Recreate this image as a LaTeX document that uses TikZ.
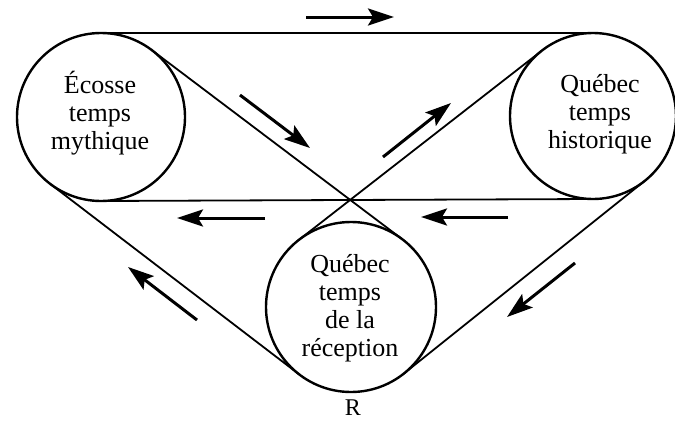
\documentclass[tikz,border=0pt]{standalone}
\usepackage{fontspec}
\setmainfont{Liberation Serif}
\usetikzlibrary{calc,arrows.meta}
\begin{document}
\begin{tikzpicture}[x=1pt,y=-1pt,
  circ/.style={circle,draw,line width=2.4pt,inner sep=0pt,outer sep=0pt},
  belt/.style={line width=1.8pt},
  flow/.style={line width=3pt,-{Stealth[length=26pt,width=17pt,inset=5pt]}},
  lbl/.style={align=center,font=\fontsize{26}{28}\selectfont,inner sep=0pt}]
\useasboundingbox (0,0) rectangle (675,421);
% circles
\node[circ,minimum size=168pt] (L) at (101,117) {};
\node[circ,minimum size=166pt] (H) at (593,116) {};
\node[circ,minimum size=170pt] (B) at (351,307) {};
% tangent points
\coordinate (L1) at ($(L.center)!84pt!90:(B.center)$);
\coordinate (B1) at ($(B.center)!85pt!-90:(L.center)$);
\coordinate (H1) at ($(H.center)!83pt!-90:(B.center)$);
\coordinate (B2) at ($(B.center)!85pt!90:(H.center)$);
\coordinate (L2) at ($(L.center)!84pt!-90:(B.center)$);
\coordinate (B3) at ($(B.center)!85pt!90:(L.center)$);
\coordinate (H2) at ($(H.center)!83pt!90:(B.center)$);
\coordinate (B4) at ($(B.center)!85pt!-90:(H.center)$);
% belt lines
\draw[belt] (L.north) -- (H.north);
\draw[belt] (L.south) -- (H.south);
\draw[belt] (L1) -- (B1);
\draw[belt] (H1) -- (B2);
\draw[belt] (L2) -- (B3);
\draw[belt] (H2) -- (B4);
% labels
\node[lbl] (tL) at (100,113) {Écosse\\temps\\mythique};
\node[lbl] (tH) at (600,114) {Québec\\temps\\historique};
\node[lbl] (tB) at (350,308) {Québec\\temps\\de la\\réception};
\node[font=\fontsize{24}{26}\selectfont,inner sep=0pt] (R) at (353,408) {R};
% flow arrows
\coordinate (a1s) at (306,17);  \coordinate (a1e) at (394,17);
\coordinate (a2s) at (240,95);  \coordinate (a2e) at (310,148);
\coordinate (a3s) at (383,157); \coordinate (a3e) at (451,103);
\coordinate (a4s) at (265,218); \coordinate (a4e) at (177,218);
\coordinate (a5s) at (508,217); \coordinate (a5e) at (421,217);
\coordinate (a6s) at (197,320); \coordinate (a6e) at (128,267);
\coordinate (a7s) at (575,263); \coordinate (a7e) at (507,317);
\draw[flow] (a1s) -- (a1e);
\draw[flow] (a2s) -- (a2e);
\draw[flow] (a3s) -- (a3e);
\draw[flow] (a4s) -- (a4e);
\draw[flow] (a5s) -- (a5e);
\draw[flow] (a6s) -- (a6e);
\draw[flow] (a7s) -- (a7e);
\end{tikzpicture}
\end{document}
